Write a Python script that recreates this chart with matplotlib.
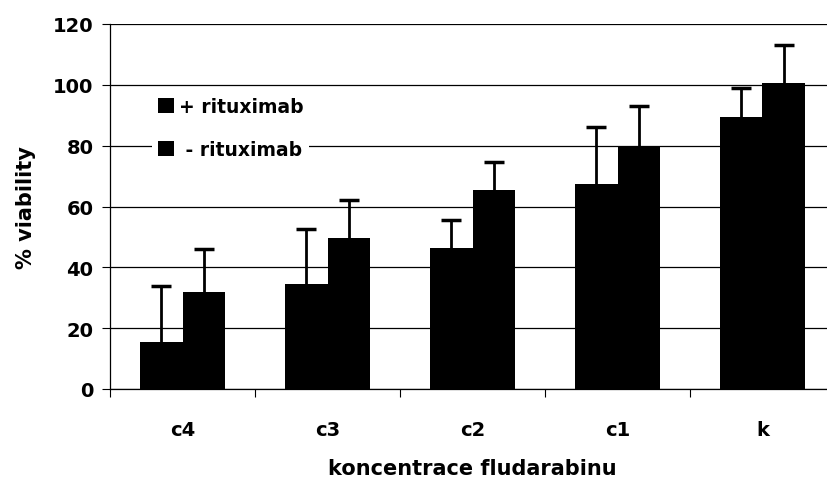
import numpy as np
import matplotlib.pyplot as plt
from matplotlib.patches import Patch

categories = ["c4", "c3", "c2", "c1", "k"]
plus_rit = [15.5, 34.5, 46.5, 67.5, 89.5]
minus_rit = [32, 49.5, 65.5, 80, 100.5]
plus_err = [18.5, 18, 9, 18.5, 9.5]
minus_err = [14, 12.7, 9, 13, 12.7]

plt.rcParams["font.family"] = ["DejaVu Sans"]
plt.rcParams["font.weight"] = "bold"

fig = plt.figure(figsize=(8.27, 4.81), dpi=100)
ax = fig.add_axes([110 / 827, 91 / 481, 725 / 827, 365 / 481])

x = np.arange(len(categories))
w = 0.29
ax.bar(x - w / 2, plus_rit, w, color="black", zorder=3)
ax.bar(x + w / 2, minus_rit, w, color="black", zorder=3)
for xs, vals, errs in [(x - w / 2, plus_rit, plus_err), (x + w / 2, minus_rit, minus_err)]:
    _, caps, _ = ax.errorbar(xs, vals, yerr=[np.zeros(5), errs], fmt="none",
                             ecolor="black", elinewidth=2, capsize=7,
                             capthick=2.5, zorder=4)
    caps[0].set_visible(False)

ax.set_xlim(-0.5, len(categories) - 0.5)
ax.set_ylim(0, 120)
ax.set_yticks(range(0, 121, 20))
ax.yaxis.grid(True, color="black", linewidth=0.9, zorder=0)
ax.set_axisbelow(True)

ax.set_xticks(x)
ax.set_xticklabels(categories)
ax.set_xticks(np.arange(-0.5, len(categories), 1), minor=True)
ax.tick_params(axis="x", which="major", length=0, pad=22, labelsize=14)
ax.tick_params(axis="x", which="minor", length=6, width=0.8, direction="out")
ax.tick_params(axis="y", length=6, width=0.8, labelsize=14, pad=6)

for s in ["top", "right"]:
    ax.spines[s].set_visible(False)
for s in ["left", "bottom"]:
    ax.spines[s].set_linewidth(0.9)

ax.set_ylabel("% viability", fontsize=15, fontweight="bold", labelpad=12)
ax.set_xlabel("koncentrace fludarabinu", fontsize=15, fontweight="bold", labelpad=14)

handles = [Patch(facecolor="black"), Patch(facecolor="black")]
leg = ax.legend(handles, ["+ rituximab", " - rituximab"], loc="upper left",
                bbox_to_anchor=(0.045, 0.84), frameon=True, facecolor="white",
                edgecolor="none", framealpha=1, fontsize=13.5, handlelength=0.85,
                handleheight=0.85, handletextpad=0.3, labelspacing=1.25,
                borderpad=0.3)
leg.set_zorder(5)

fig.savefig("out.png", dpi=100)
